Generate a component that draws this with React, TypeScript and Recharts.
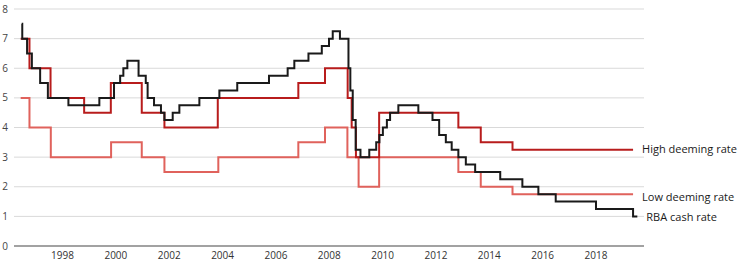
import React from 'react';
import { LineChart, Line, XAxis, YAxis, CartesianGrid, LabelList } from 'recharts';

// step change dates (decimal years) and rates
const rbaYears = [
  1996.47, 1996.49, 1996.67, 1996.85, 1997.16, 1997.45, 1998.22, 1999.38, 1999.93, 2000.16,
  2000.28, 2000.43, 2000.85, 2001.12, 2001.19, 2001.43, 2001.69, 2001.82, 2002.13, 2002.38,
  2003.13, 2003.88, 2004.55, 2005.74, 2006.44, 2006.69, 2007.22, 2007.72, 2007.99, 2008.13,
  2008.4, 2008.72, 2008.79, 2008.88, 2008.99, 2009.17, 2009.5, 2009.76, 2009.88, 2010.01,
  2010.16, 2010.28, 2010.59, 2011.34, 2011.87, 2012.12, 2012.37, 2012.59, 2012.84, 2013.12,
  2013.47, 2014.41, 2015.24, 2015.84, 2016.49, 2018.0, 2019.39, 2019.55,
];
const rbaRates = [
  7.5, 7.0, 6.5, 6.0, 5.5, 5.0, 4.75, 5.0, 5.5, 5.75,
  6.0, 6.25, 5.75, 5.5, 5.0, 4.75, 4.5, 4.25, 4.5, 4.75,
  5.0, 5.25, 5.5, 5.75, 6.0, 6.25, 6.5, 6.75, 7.0, 7.25,
  7.0, 6.0, 5.25, 4.25, 3.25, 3.0, 3.25, 3.5, 3.75, 4.0,
  4.25, 4.5, 4.75, 4.5, 4.25, 3.75, 3.5, 3.25, 3.0, 2.75,
  2.5, 2.25, 2.0, 1.75, 1.5, 1.25, 1.0, 1.0,
];

const highYears = [
  1996.43, 1996.76, 1997.55, 1998.81, 1999.81, 2000.97, 2001.82, 2003.82, 2006.84, 2007.84,
  2008.69, 2008.84, 2009.0, 2009.87, 2012.84, 2013.68, 2014.87, 2019.39,
];
const highRates = [7.0, 6.0, 5.0, 4.5, 5.5, 4.5, 4.0, 5.0, 5.5, 6.0, 5.0, 4.0, 3.0, 4.5, 4.0, 3.5, 3.25, 3.25];

const lowYears = [
  1996.43, 1996.76, 1997.56, 1999.82, 2000.97, 2001.82, 2003.84, 2006.84, 2007.84, 2008.68,
  2009.1, 2009.87, 2012.84, 2013.68, 2014.87, 2019.39,
];
const lowRates = [5.0, 4.0, 3.0, 3.5, 3.0, 2.5, 3.0, 3.5, 4.0, 3.0, 2.0, 3.0, 2.5, 2.0, 1.75, 1.75];

const yearTicks = [1998, 2000, 2002, 2004, 2006, 2008, 2010, 2012, 2014, 2016, 2018];
const rateTicks = [0, 1, 2, 3, 4, 5, 6, 7, 8];

const toRows = (years: number[], rates: number[]) => years.map((year, i) => ({ year, rate: rates[i] }));

const rbaData = toRows(rbaYears, rbaRates);
const highData = toRows(highYears, highRates);
const lowData = toRows(lowYears, lowRates);

const endLabel = (text: string, count: number, dy: number) => (props: any) => {
  if (props.index !== count - 1) return null;
  return (
    <text
      x={props.x + 9}
      y={props.y + dy}
      dominantBaseline="central"
      fontSize={11}
      fill="#1a1a1a"
      fontFamily="'Open Sans', sans-serif"
    >
      {text}
    </text>
  );
};

const App: React.FC = () => {
  return (
    <div style={{ position: 'absolute', left: 0, top: 0, background: '#fff' }}>
      <LineChart width={754} height={270} margin={{ top: 9, right: 110, bottom: 0, left: 0 }}>
        <CartesianGrid vertical={false} stroke="#d9d9d9" />
        <XAxis
          type="number"
          dataKey="year"
          domain={[1996.18, 2019.8]}
          ticks={yearTicks}
          allowDataOverflow
          height={24}
          tickLine={false}
          tickSize={4}
          axisLine={{ stroke: '#595959' }}
          tick={{ fontSize: 10, fill: '#333', fontFamily: "'Open Sans', sans-serif" }}
        />
        <YAxis
          type="number"
          domain={[0, 8]}
          ticks={rateTicks}
          width={14}
          axisLine={false}
          tickLine={false}
          tickSize={4}
          tick={{ fontSize: 10, fill: '#444', fontFamily: "'Open Sans', sans-serif" }}
        />
        <Line
          data={lowData}
          dataKey="rate"
          type="stepAfter"
          stroke="#e0625c"
          strokeWidth={2}
          dot={false}
          isAnimationActive={false}
        >
          <LabelList dataKey="rate" content={endLabel('Low deeming rate', lowData.length, 2)} />
        </Line>
        <Line
          data={highData}
          dataKey="rate"
          type="stepAfter"
          stroke="#b81c1c"
          strokeWidth={2}
          dot={false}
          isAnimationActive={false}
        >
          <LabelList dataKey="rate" content={endLabel('High deeming rate', highData.length, -1)} />
        </Line>
        <Line
          data={rbaData}
          dataKey="rate"
          type="stepAfter"
          stroke="#1a1a1a"
          strokeWidth={2}
          dot={false}
          isAnimationActive={false}
        >
          <LabelList dataKey="rate" content={endLabel('RBA cash rate', rbaData.length, 0)} />
        </Line>
      </LineChart>
    </div>
  );
};

export default App;
